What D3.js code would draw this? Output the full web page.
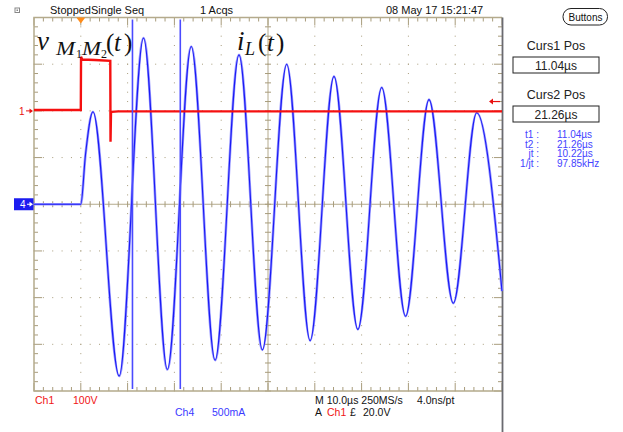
<!DOCTYPE html>
<html><head><meta charset="utf-8">
<script src="https://cdn.jsdelivr.net/npm/d3@7"></script>
<style>
body{margin:0;background:#fff}
svg{display:block}
</style>
</head><body>
<svg id="c" width="623" height="432"></svg>
<script>
// ---------- data ----------
// Ch4 : inductor current i_L(t), 500 mA/div, time in µs
const ch4Time    = [-10, 0, 1.0, 2.6, 8.2, 13.4, 18.5, 23.6, 28.7, 33.8, 38.8, 44.0, 49.0, 54.1, 59.2, 64.3, 69.4, 74.4, 79.6, 84.6, 90];
const ch4Current = [0, 0, 0.53, 0.99, -1.84, 1.78, -1.77, 1.69, -1.67, 1.60, -1.56, 1.50, -1.46, 1.37, -1.34, 1.25, -1.20, 1.12, -1.06, 0.98, -0.93];
// Ch1 : v_M1M2(t), 100 V/div
const ch1Time = [-10, 0, 0.05, 0.3, 3.0, 6.3, 6.35, 6.45, 6.6, 8.0, 90];
const ch1Volt = [2, 2, 116, 110, 109, 107, -66, -4, -2, -1, -1];
// cursors (µs) and trigger
const cursorTimes = [11.04, 21.26];
const triggerTime = 0;
const triggerLevel = 20; // V
// readouts
const cursorReadLabels = ["t1 :", "t2 :", "jt :", "1/jt :"];
const cursorReadValues = ["11.04µs", "21.26µs", "10.22µs", "97.85kHz"];

// ---------- scales ----------
const L = 34, R = 502, T = 17.5, B = 391;
const x  = d3.scaleLinear().domain([-10, 90]).range([L, R]);
const y4 = d3.scaleLinear().domain([-2, 2]).range([B, T]);
const y1 = d3.scaleLinear().domain([-600, 200]).range([B, T]);

const svg = d3.select("#c");
const sans = '"Liberation Sans",Arial,sans-serif';
const gridCol = "#a89c7c", frameCol = "#b4aa8c";

const majX = x.ticks(10), minX = x.ticks(50);
const majY = y4.ticks(8), minY = y4.ticks(40);
const innerX = majX.filter(d => d > -10 && d < 90 && d !== 40);
const innerY = majY.filter(d => d > -2 && d < 2 && d !== 0);

const g = svg.append("g");
// dotted gridlines
innerX.forEach(t => {
  g.selectAll(null).data(minY).join("rect")
    .attr("x", x(t) - 0.5).attr("y", d => y4(d) - 0.5).attr("width", 1).attr("height", 1)
    .attr("fill", gridCol);
});
innerY.forEach(v => {
  g.selectAll(null).data(minX).join("rect")
    .attr("x", d => x(d) - 0.5).attr("y", y4(v) - 0.5).attr("width", 1).attr("height", 1)
    .attr("fill", gridCol);
});
// centre cross
g.append("line").attr("x1", x(40)).attr("x2", x(40)).attr("y1", T).attr("y2", B).attr("stroke", frameCol);
g.append("line").attr("x1", L).attr("x2", R).attr("y1", y4(0)).attr("y2", y4(0)).attr("stroke", frameCol);
g.selectAll(null).data(minX).join("line")
  .attr("x1", d => x(d)).attr("x2", d => x(d)).attr("y1", y4(0) - 3).attr("y2", y4(0) + 3).attr("stroke", gridCol);
g.selectAll(null).data(minY).join("line")
  .attr("y1", d => y4(d)).attr("y2", d => y4(d)).attr("x1", x(40) - 3).attr("x2", x(40) + 3).attr("stroke", gridCol);
// frame ticks
const isMajX = d => majX.includes(d), isMajY = d => majY.includes(d);
g.selectAll(null).data(minX).join("line")
  .attr("x1", d => x(d)).attr("x2", d => x(d)).attr("y1", B).attr("y2", d => B - (isMajX(d) ? 8 : 4)).attr("stroke", gridCol);
g.selectAll(null).data(minX).join("line")
  .attr("x1", d => x(d)).attr("x2", d => x(d)).attr("y1", T).attr("y2", d => T + (isMajX(d) ? 8 : 4)).attr("stroke", gridCol);
g.selectAll(null).data(minY).join("line")
  .attr("y1", d => y4(d)).attr("y2", d => y4(d)).attr("x1", L).attr("x2", d => L + (isMajY(d) ? 8 : 4)).attr("stroke", gridCol);
g.selectAll(null).data(minY).join("line")
  .attr("y1", d => y4(d)).attr("y2", d => y4(d)).attr("x1", R).attr("x2", d => R - (isMajY(d) ? 8 : 4)).attr("stroke", gridCol);
// frame
g.append("path").attr("d", `M${R},${T}H${L}V${B}H${R}`).attr("fill", "none").attr("stroke", frameCol).attr("stroke-width", 1.5);
g.append("line").attr("x1", R + 0.5).attr("x2", R + 0.5).attr("y1", T).attr("y2", 432).attr("stroke", "#6a6a70").attr("stroke-width", 1.8);

// ---------- traces ----------
const ch4 = ch4Time.map((t, i) => [t, ch4Current[i]]);
const ch1 = ch1Time.map((t, i) => [t, ch1Volt[i]]);
const line4 = d3.line().x(d => x(d[0])).y(d => y4(d[1])).curve(d3.curveMonotoneX);
const line1 = d3.line().x(d => x(d[0])).y(d => y1(d[1]));
svg.append("path").attr("d", line4(ch4)).attr("fill", "none").attr("stroke", "#9c9cff").attr("stroke-width", 2.6);
svg.append("path").attr("d", line4(ch4)).attr("fill", "none").attr("stroke", "#1a1af5").attr("stroke-width", 1.1);
svg.append("path").attr("d", line1(ch1)).attr("fill", "none").attr("stroke", "#f51010").attr("stroke-width", 2.4);

// cursors
svg.selectAll(null).data(cursorTimes).join("line")
  .attr("x1", d => x(d)).attr("x2", d => x(d)).attr("y1", T + 2).attr("y2", B - 2)
  .attr("stroke", "#4a4aff").attr("stroke-width", 1.6);

// trigger position marker
svg.append("path").attr("d", `M${x(triggerTime) - 4.5},${T}L${x(triggerTime) + 4.5},${T}L${x(triggerTime)},${T + 6}Z`).attr("fill", "#ff8c1a");
// trigger level arrow (right)
const ty = y1(triggerLevel);
svg.append("line").attr("x1", 491).attr("x2", 500).attr("y1", ty).attr("y2", ty).attr("stroke", "#e81010").attr("stroke-width", 1.2);
svg.append("path").attr("d", `M489,${ty}L493,${ty - 3}L493,${ty + 3}Z`).attr("fill", "#e81010");

// channel markers (left)
function tx(xp, yp, size, str, col, anchor, fam) {
  return svg.append("text").attr("x", xp).attr("y", yp).attr("font-size", size)
    .style("font-family", fam || sans)
    .attr("fill", col || "#111").attr("text-anchor", anchor || "start").text(str);
}
const r1 = y1(0);
tx(19, r1 + 4, 10, "1", "#e81010");
svg.append("line").attr("x1", 26).attr("x2", 31).attr("y1", r1).attr("y2", r1).attr("stroke", "#e81010");
svg.append("path").attr("d", `M33,${r1}L29.5,${r1 - 2.5}L29.5,${r1 + 2.5}Z`).attr("fill", "#e81010");
const r4 = y4(0);
svg.append("rect").attr("x", 14).attr("y", r4 - 6).attr("width", 19.5).attr("height", 12).attr("fill", "#1c1cf0");
tx(20, r4 + 4, 10, "4", "#fff");
svg.append("line").attr("x1", 27).attr("x2", 31).attr("y1", r4).attr("y2", r4).attr("stroke", "#fff");
svg.append("path").attr("d", `M33,${r4}L29.5,${r4 - 2.5}L29.5,${r4 + 2.5}Z`).attr("fill", "#fff");

// ---------- math labels ----------
const serifI = '"Liberation Serif","Times New Roman",serif';
function mt(xp, yp, size, str, italic, len) {
  const t = svg.append("text").attr("x", xp).attr("y", yp)
    .style("font-family", serifI)
    .style("font-style", italic ? "italic" : "normal")
    .attr("font-size", size).attr("fill", "#111").text(str);
  if (len) t.attr("textLength", len).attr("lengthAdjust", "spacingAndGlyphs");
}
mt(37, 50, 27, "v", true);
mt(56, 55, 18, "M", true, 19);
mt(76, 57.5, 12, "1", false);
mt(82, 55, 18, "M", true, 19);
mt(101, 57.5, 12, "2", false);
mt(106, 51, 25, "(", false);
mt(114, 51, 25, "t", true);
mt(124, 51, 25, ")", false);
mt(237, 50, 27, "i", true);
mt(245, 55, 18, "L", true);
mt(258, 51, 25, "(", false);
mt(267, 51, 25, "t", true);
mt(276, 51, 25, ")", false);

// ---------- header / footer text ----------
svg.append("rect").attr("x", 15).attr("y", 8).attr("width", 4.5).attr("height", 4.5).attr("fill", "none").attr("stroke", "#888");
svg.append("rect").attr("x", 16.5).attr("y", 9.5).attr("width", 1.5).attr("height", 1.5).attr("fill", "#888");
tx(50, 14, 11, "StoppedSingle Seq");
tx(200, 14, 11, "1 Acqs");
tx(386, 14, 11, "08 May 17 15:21:47");

tx(35, 404, 10.5, "Ch1", "#f01414");
tx(73, 404, 10.5, "100V", "#f01414");
tx(175, 416, 10.5, "Ch4", "#3a3aff");
tx(212, 416, 10.5, "500mA", "#3a3aff");
tx(315, 404, 10.5, "M 10.0µs 250MS/s");
tx(417, 404, 10.5, "4.0ns/pt");
tx(315, 416, 10.5, "A");
tx(327, 416, 10.5, "Ch1", "#f01414");
tx(350, 416, 10.5, "£");
tx(363, 416, 10.5, "20.0V");

// ---------- right panel ----------
svg.append("rect").attr("x", 563).attr("y", 8.5).attr("width", 44.5).attr("height", 16.5).attr("rx", 8).attr("ry", 8)
  .attr("fill", "#fff").attr("stroke", "#222").attr("stroke-width", 1);
tx(585.5, 21, 10, "Buttons", "#111", "middle");
tx(556, 49.5, 12.5, "Curs1 Pos", "#222", "middle");
svg.append("rect").attr("x", 513).attr("y", 57).attr("width", 86).attr("height", 16).attr("fill", "#fff").attr("stroke", "#222");
tx(556, 69.5, 12, cursorReadValues[0], "#222", "middle");
tx(556, 99, 12.5, "Curs2 Pos", "#222", "middle");
svg.append("rect").attr("x", 513).attr("y", 106).attr("width", 86).attr("height", 16).attr("fill", "#fff").attr("stroke", "#222");
tx(556, 118.5, 12, cursorReadValues[1], "#222", "middle");
const rowY = [138, 147.5, 157, 166.5];
cursorReadLabels.forEach((l, i) => {
  tx(539, rowY[i], 10, l, "#4444ff", "end");
  tx(557, rowY[i], 10, cursorReadValues[i], "#4444ff", "start");
});
</script>
</body></html>
